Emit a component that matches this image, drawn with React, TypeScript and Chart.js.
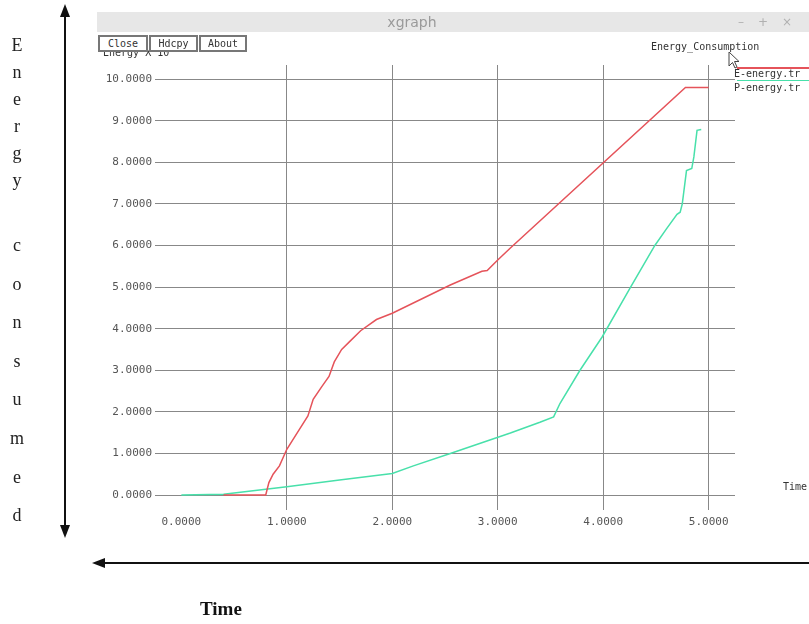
import React, { useEffect, useRef } from "react";
import { Chart, registerables } from "chart.js";

Chart.register(...registerables);

// ---- data ----
const xTicks = [0, 1, 2, 3, 4, 5];
const yTicks = [0, 1, 2, 3, 4, 5, 6, 7, 8, 9, 10];

const seriesNames = ["E-energy.tr", "P-energy.tr"];

const eTime = [0.4, 0.8, 0.83, 0.87, 0.93, 1.0, 1.1, 1.2, 1.25, 1.33, 1.4, 1.45, 1.52, 1.6, 1.7, 1.85, 2.0, 2.55, 2.85, 2.9, 3.0, 3.12, 4.78, 5.0];
const eEnergy = [0, 0, 0.3, 0.5, 0.7, 1.1, 1.5, 1.9, 2.3, 2.6, 2.85, 3.2, 3.5, 3.7, 3.95, 4.22, 4.37, 5.05, 5.38, 5.4, 5.65, 5.94, 9.8, 9.8];

const pTime = [0, 0.4, 0.8, 1.0, 1.5, 2.0, 2.2, 2.55, 3.12, 3.4, 3.53, 3.59, 3.78, 3.99, 4.26, 4.49, 4.6, 4.7, 4.73, 4.75, 4.79, 4.84, 4.86, 4.89, 4.93];
const pEnergy = [0, 0.02, 0.14, 0.2, 0.36, 0.52, 0.7, 1.0, 1.49, 1.75, 1.88, 2.2, 3.0, 3.8, 5.0, 6.0, 6.4, 6.75, 6.8, 7.0, 7.8, 7.85, 8.13, 8.77, 8.79];

const sideWord1 = "Energy";
const sideWord2 = "consumed";

const RED = "#e5535a";
const GREEN = "#48e0aa";
const GRID = "#888888";
const MONO = "'DejaVu Sans Mono', monospace";
const SERIF = "'Liberation Serif', 'Times New Roman', serif";

export default function App() {
  const ref = useRef<HTMLCanvasElement | null>(null);

  useEffect(() => {
    document.body.style.margin = "0";
    const canvas = ref.current!;
    const chart = new Chart(canvas, {
      type: "line",
      data: {
        datasets: [
          {
            label: seriesNames[0],
            data: eTime.map((x, i) => ({ x, y: eEnergy[i] })),
            borderColor: RED,
            borderWidth: 1.5,
            pointRadius: 0,
            tension: 0,
            fill: false,
          },
          {
            label: seriesNames[1],
            data: pTime.map((x, i) => ({ x, y: pEnergy[i] })),
            borderColor: GREEN,
            borderWidth: 1.5,
            pointRadius: 0,
            tension: 0,
            fill: false,
          },
        ],
      },
      options: {
        animation: false,
        responsive: false,
        layout: { padding: { top: 65, right: 74, left: 0, bottom: 0 } },
        plugins: {
          legend: { display: false },
          tooltip: { enabled: false },
          title: { display: false },
        },
        scales: {
          x: {
            type: "linear",
            min: -0.25,
            max: 5.25,
            afterBuildTicks: (s: any) => {
              s.ticks = xTicks.map((v) => ({ value: v }));
            },
            afterFit: (s: any) => {
              s.height = 114;
            },
            grid: {
              color: (c: any) => (c.tick && c.tick.value === 0 ? "rgba(0,0,0,0)" : GRID),
              drawTicks: false,
              lineWidth: 1,
            },
            border: { display: false },
            ticks: {
              callback: (v: any) => Number(v).toFixed(4),
              font: { family: MONO, size: 11 },
              color: "#555",
              padding: 6,
              maxRotation: 0,
              autoSkip: false,
            },
          },
          y: {
            type: "linear",
            min: -0.36,
            max: 10.34,
            afterBuildTicks: (s: any) => {
              s.ticks = yTicks.map((v) => ({ value: v }));
            },
            afterFit: (s: any) => {
              s.width = 155;
            },
            grid: { color: GRID, drawTicks: false, lineWidth: 1 },
            border: { display: false },
            ticks: {
              callback: (v: any) => Number(v).toFixed(4),
              font: { family: MONO, size: 11 },
              color: "#555",
              padding: 3,
              autoSkip: false,
            },
          },
        },
      },
    });
    return () => chart.destroy();
  }, []);

  const letters1 = sideWord1.split("");
  const letters2 = sideWord2.split("");
  const pos1 = letters1.map((_, i) => 45 + i * 27);
  const pos2 = letters2.map((_, i) => 245 + i * 38.6);

  const abs = (s: React.CSSProperties): React.CSSProperties => ({ position: "absolute", ...s });
  const btn = (left: number, w: number, label: string) => (
    <div
      key={label}
      style={abs({
        left,
        top: 35,
        width: w,
        height: 17,
        border: "2px solid #777",
        boxSizing: "border-box",
        background: "#fff",
        font: `10px ${MONO}`,
        color: "#333",
        lineHeight: "13px",
        textAlign: "center",
        zIndex: 3,
      })}
    >
      {label}
    </div>
  );

  return (
    <div style={{ position: "fixed", left: 0, top: 0, width: 809, height: 624, overflow: "hidden", background: "#fff" }}>
      <canvas ref={ref} width={809} height={624} style={abs({ left: 0, top: 0, width: 809, height: 624 })} />

      {/* window title bar */}
      <div style={abs({ left: 97, top: 12, width: 712, height: 20, background: "#e7e7e7", zIndex: 2 })} />
      <div style={abs({ left: 97, top: 12, width: 630, height: 20, textAlign: "center", font: `14px 'DejaVu Sans', sans-serif`, color: "#9a9a9a", lineHeight: "20px", zIndex: 2 })}>
        xgraph
      </div>
      <div style={abs({ left: 738, top: 12, width: 70, height: 20, font: `12px 'DejaVu Sans', sans-serif`, color: "#b0b0b0", lineHeight: "20px", letterSpacing: 14, zIndex: 2 })}>
        –+×
      </div>

      {/* buttons and y-axis title (partly hidden under the buttons) */}
      <div style={abs({ left: 103, top: 46, font: `10px ${MONO}`, color: "#333", zIndex: 1 })}>
        Energy X 10<sup style={{ fontSize: 7 }}>6</sup>
      </div>
      {btn(98, 50, "Close")}
      {btn(149, 49, "Hdcpy")}
      {btn(199, 48, "About")}

      {/* plot title */}
      <div style={abs({ left: 651, top: 41, font: `10px ${MONO}`, color: "#333" })}>Energy_Consumption</div>

      {/* legend */}
      <div style={abs({ left: 737, top: 67, width: 80, height: 2, background: RED })} />
      <div style={abs({ left: 734, top: 68, font: `10px ${MONO}`, color: "#333", whiteSpace: "nowrap" })}>{seriesNames[0]}</div>
      <div style={abs({ left: 737, top: 80, width: 80, height: 1, background: GREEN })} />
      <div style={abs({ left: 734, top: 82, font: `10px ${MONO}`, color: "#333", whiteSpace: "nowrap" })}>{seriesNames[1]}</div>

      {/* x-axis title inside xgraph */}
      <div style={abs({ left: 783, top: 481, font: `10px ${MONO}`, color: "#333", whiteSpace: "nowrap" })}>Time</div>

      {/* mouse cursor */}
      <svg width={14} height={20} style={abs({ left: 728, top: 51, zIndex: 4 })}>
        <path d="M1 1 L1 15 L4.5 11.5 L7 17 L9 16 L6.5 10.5 L11 10.5 Z" fill="#fff" stroke="#444" strokeWidth={1} />
      </svg>

      {/* outer annotation arrows */}
      <svg width={809} height={624} style={abs({ left: 0, top: 0, pointerEvents: "none" })}>
        <line x1={65} y1={14} x2={65} y2={528} stroke="#111" strokeWidth={2} />
        <polygon points="65,4 60,17 70,17" fill="#111" />
        <polygon points="65,538 60,525 70,525" fill="#111" />
        <line x1={103} y1={563} x2={809} y2={563} stroke="#111" strokeWidth={2} />
        <polygon points="92,563 105,558 105,568" fill="#111" />
      </svg>

      {letters1.map((ch, i) => (
        <div key={"a" + i} style={abs({ left: 5, top: pos1[i] - 11, width: 24, textAlign: "center", font: `18px ${SERIF}`, color: "#222", lineHeight: "22px" })}>
          {ch}
        </div>
      ))}
      {letters2.map((ch, i) => (
        <div key={"b" + i} style={abs({ left: 5, top: pos2[i] - 11, width: 24, textAlign: "center", font: `18px ${SERIF}`, color: "#222", lineHeight: "22px" })}>
          {ch}
        </div>
      ))}

      <div style={abs({ left: 200, top: 598, font: `bold 19px ${SERIF}`, color: "#111" })}>Time</div>
    </div>
  );
}
